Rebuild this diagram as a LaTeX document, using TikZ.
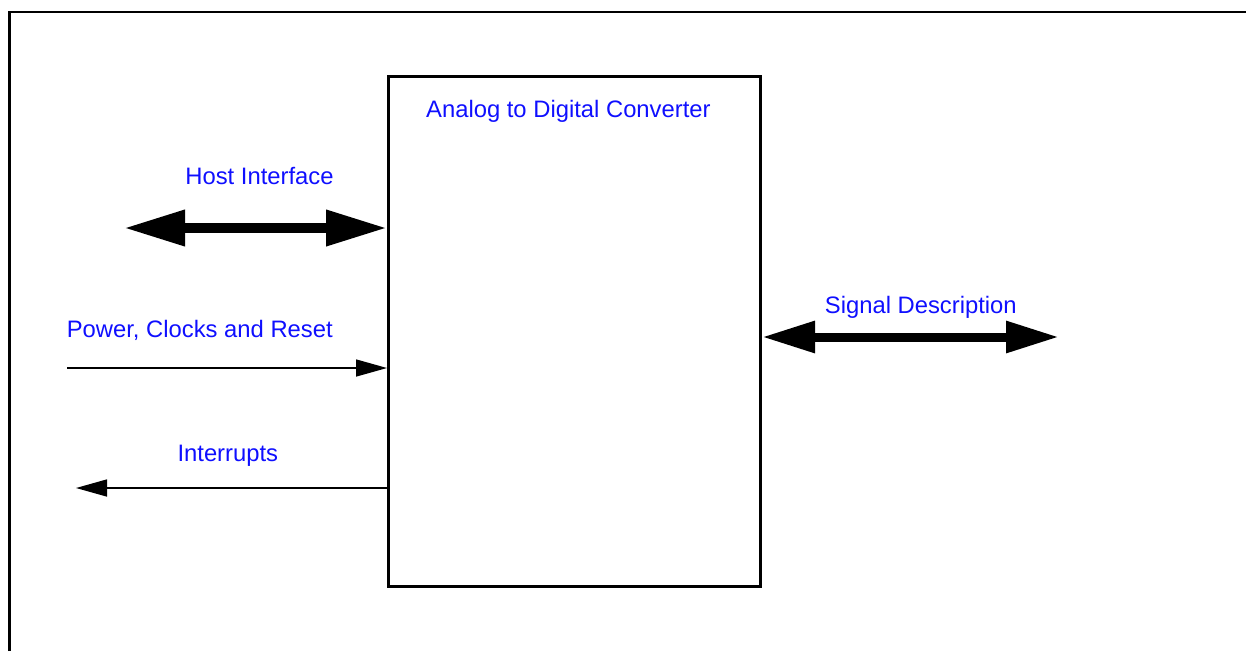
\documentclass[tikz,border=0pt]{standalone}
\usepackage{fontspec}
\setmainfont{Liberation Sans}
\usetikzlibrary{arrows.meta}
\definecolor{lblue}{RGB}{15,15,255}
\tikzstyle{lbl} = [text=lblue, inner sep=0, anchor=base, font=\fontsize{23.8}{28}\selectfont]
\tikzstyle{block} = [draw, line width=3, inner sep=0, minimum width=372, minimum height=510]
\tikzstyle{bus} = [line width=10, {Triangle[length=61pt,width=34pt]}-{Triangle[length=61pt,width=34pt]}]
\tikzstyle{wire} = [line width=1.5, -{Triangle[length=31pt,width=17pt]}]

\begin{document}
\begin{tikzpicture}[x=1pt,y=-1pt]
\useasboundingbox (0,0) rectangle (1246,651);
\draw[line width=2.5] (9.5,651) -- (9.5,12) -- (1246,12);

\node[block] (adc) at (574.5,331) {};
\node[lbl] (title) at (568.4,117.3) {Analog to Digital Converter};
\node[lbl] (host) at (259.5,184) {Host Interface};
\node[lbl] (pwr) at (199.8,337) {Power, Clocks and Reset};
\node[lbl] (irq) at (227.8,461.7) {Interrupts};
\node[lbl] (sig) at (920.8,313.7) {Signal Description};

\coordinate (hostL) at (124,228);
\coordinate (pwrL) at (67,368);
\coordinate (irqL) at (76,488);
\coordinate (sigR) at (1059,337);

\draw[bus] (hostL) -- (adc.west |- hostL);
\draw[wire] (pwrL) -- (adc.west |- pwrL);
\draw[wire] (adc.west |- irqL) -- (irqL);
\draw[bus, line width=9, {Triangle[length=53pt,width=30pt]}-{Triangle[length=53pt,width=30pt]}] (adc.east |- sigR) -- (sigR);
\end{tikzpicture}
\end{document}
